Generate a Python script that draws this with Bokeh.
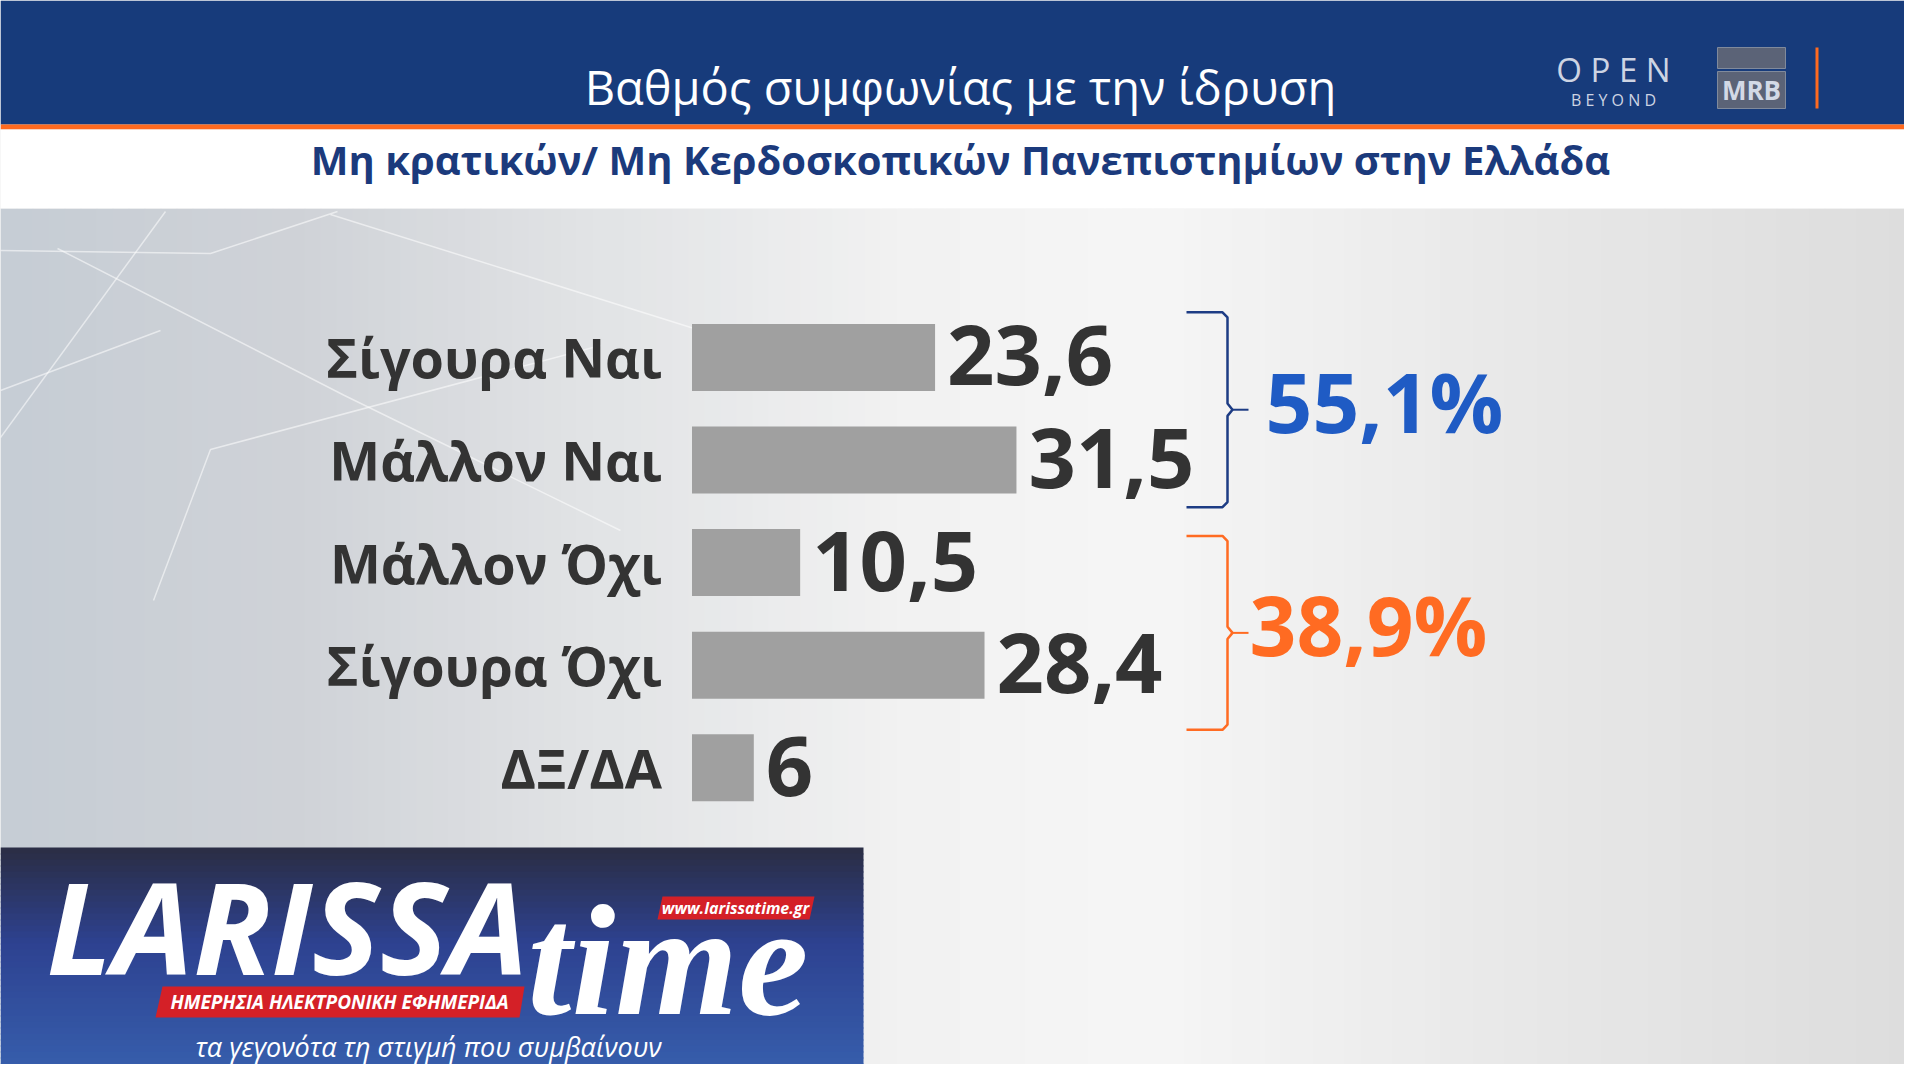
import numpy as np
from bokeh.plotting import figure
from bokeh.models import Range1d, ColumnDataSource
from bokeh.embed import file_html
from bokeh.resources import INLINE
from bokeh.core.properties import value

# ---------------- data ----------------
title_text = "Βαθμός συμφωνίας με την ίδρυση"
subtitle_text = "Μη κρατικών/ Μη Κερδοσκοπικών Πανεπιστημίων στην Ελλάδα"
categories = ["Σίγουρα Ναι", "Μάλλον Ναι", "Μάλλον Όχι", "Σίγουρα Όχι", "ΔΞ/ΔΑ"]
values = [23.6, 31.5, 10.5, 28.4, 6]
value_labels = ["23,6", "31,5", "10,5", "28,4", "6"]
group_members = [[0, 1], [2, 3]]
group_labels = ["55,1%", "38,9%"]
group_colors = ["#1d3c84", "#ff6b22"]
group_text_colors = ["#1f5bc4", "#ff6b22"]

# ---------------- layout (screen pixels) ----------------
W, H = 1904, 1064
BAR_X0 = 691.5       # screen x of value 0
PX_PER_UNIT = 10.3   # screen px per percentage point
ROW0 = 356.9         # screen y of first row centre
ROW_STEP = 102.6     # screen px between rows
# brace extents relative to the first/last row of each group (row units)
BRACE_TOP_PAD = [-0.44, -0.26]
BRACE_BOT_PAD = [0.46, 0.63]
BRACE_LABEL_DX = [17, 1]

FONT = value("Open Sans")

p = figure(width=W, height=H,
           x_range=Range1d(0, W), y_range=Range1d(H, 0),
           output_backend="svg", toolbar_location=None,
           x_axis_location=None, y_axis_location=None,
           min_border=0, outline_line_color=None,
           background_fill_color="#e9e9e9", border_fill_color="#e9e9e9")
p.grid.visible = False
p.title.visible = False

p.extra_x_ranges = {"val": Range1d((0 - BAR_X0) / PX_PER_UNIT,
                                   (W - BAR_X0) / PX_PER_UNIT)}
p.extra_y_ranges = {"cat": Range1d((H - ROW0) / ROW_STEP,
                                   (0 - ROW0) / ROW_STEP)}

# ---------------- background gradient ----------------
ax = [0, 300, 600, 900, 1150, 1500, 1920]
ac = [(198, 205, 213), (208, 211, 216), (226, 228, 230), (242, 242, 242),
      (246, 246, 246), (233, 233, 233), (221, 221, 221)]
xs = np.arange(0, 1920, 16)
cols = []
for x in xs:
    c = [int(np.interp(x + 8, ax, [a[i] for a in ac])) for i in range(3)]
    cols.append("#%02x%02x%02x" % tuple(c))
p.quad(left=xs, right=xs + 17, top=208, bottom=1080, fill_color=cols, line_color=None)

# faint decorative lines
deco = [
    ([0, 210, 337], [250, 253, 211]),
    ([57, 344, 620], [248, 395, 530]),
    ([165, 0], [211, 437]),
    ([153, 210, 600], [600, 449, 345]),
    ([0, 160], [390, 330]),
    ([330, 700], [214, 330]),
]
for dx, dy in deco:
    p.line(dx, dy, line_color="white", line_alpha=0.55, line_width=1.5)

# ---------------- header ----------------
p.quad(left=0, right=1920, top=0, bottom=124, fill_color="#173b7b", line_color=None)
p.quad(left=0, right=1920, top=124, bottom=129, fill_color="#ff6a1f", line_color=None)
p.quad(left=0, right=1920, top=129, bottom=208, fill_color="#ffffff", line_color=None)

p.text(x=[960], y=[86], text=[title_text], text_font=FONT, text_font_size="47px",
       text_color="white", text_align="center", text_baseline="middle")
p.text(x=[960], y=[159], text=[subtitle_text], text_font=FONT, text_font_size="40px",
       text_font_style="bold", text_color="#1b3a7c", text_align="center",
       text_baseline="middle")

# OPEN BEYOND logo
p.text(x=[1613], y=[69], text=["O P E N"], text_font=FONT, text_font_size="33px",
       text_color="#cdd4e3", text_align="center", text_baseline="middle")
p.text(x=[1613], y=[99], text=["B E Y O N D"], text_font=FONT, text_font_size="16px",
       text_color="#cdd4e3", text_align="center", text_baseline="middle")
# MRB logo
p.quad(left=[1717, 1717], right=[1785, 1785], top=[47, 71], bottom=[68, 108],
       fill_color="#5b6377", line_color="#808a9c", line_width=1)
p.text(x=[1751], y=[89], text=["MRB"], text_font=FONT, text_font_size="26px",
       text_font_style="bold", text_color="#d3d9e6", text_align="center",
       text_baseline="middle")
p.quad(left=1815, right=1818, top=47, bottom=108, fill_color="#ff6a1f", line_color=None)

# ---------------- bars ----------------
src = ColumnDataSource(dict(
    pos=list(range(len(categories))),
    cat=categories,
    val=values,
    lab=value_labels,
))
p.hbar(y="pos", left=0, right="val", height=0.653, source=src,
       fill_color="#a0a0a0", line_color=None,
       x_range_name="val", y_range_name="cat")
p.text(x=0, y="pos", text="cat", source=src, x_offset=-30, y_offset=0,
       text_font=FONT, text_font_size="54px", text_font_style="bold",
       text_color="#333333", text_align="right", text_baseline="middle",
       x_range_name="val", y_range_name="cat")
p.text(x="val", y="pos", text="lab", source=src, x_offset=12, y_offset=-2,
       text_font=FONT, text_font_size="83px", text_font_style="bold",
       text_color="#333333", text_align="left", text_baseline="middle",
       x_range_name="val", y_range_name="cat")

# ---------------- braces ----------------
XL, XV, XT = 1186, 1227, 1248
for k, (members, lab, col, tcol) in enumerate(zip(group_members, group_labels,
                                                   group_colors, group_text_colors)):
    yt = min(members) + BRACE_TOP_PAD[k]
    yb = max(members) + BRACE_BOT_PAD[k]
    ym = (yt + yb) / 2
    bx = [XL, XV - 5, XV, XV, XV + 5, XV, XV, XV - 5, XL]
    by = [yt, yt, yt + 0.05, ym - 0.06, ym, ym + 0.06, yb - 0.05, yb, yb]
    p.line(bx, by, line_color=col, line_width=2.5, y_range_name="cat")
    p.line([XV + 5, XT], [ym, ym], line_color=col, line_width=2, y_range_name="cat")
    p.text(x=[XT + BRACE_LABEL_DX[k]], y=[ym], text=[lab], y_offset=-9,
           text_font=FONT, text_font_size="82px", text_font_style="bold",
           text_color=tcol, text_align="left", text_baseline="middle",
           y_range_name="cat")

# ---------------- LARISSA time logo ----------------
top_c = np.array([43, 46, 70])
mid_c = np.array([46, 66, 145])
bot_c = np.array([56, 98, 176])
ys = np.arange(847, 1080, 6)
lcols = []
for y in ys:
    t = (y - 847) / (1080 - 847)
    if t < 0.4:
        c = top_c + (mid_c - top_c) * (t / 0.4)
    else:
        c = mid_c + (bot_c - mid_c) * ((t - 0.4) / 0.6)
    lcols.append("#%02x%02x%02x" % tuple(int(v) for v in c))
p.quad(left=0, right=863, top=ys, bottom=ys + 7, fill_color=lcols, line_color=None)

p.text(x=[46], y=[925], text=["LARISSA"], text_font=FONT, text_font_size="128px",
       text_font_style="bold italic", text_color="white", text_align="left",
       text_baseline="middle")
p.text(x=[527], y=[960], text=["time"], text_font=value("Liberation Serif"),
       text_font_size="158px", text_font_style="bold italic", text_color="white",
       text_align="left", text_baseline="middle")
p.patch([162, 524, 519, 155], [986, 986, 1017, 1017], fill_color="#d42027", line_color=None)
p.text(x=[339], y=[1001], text=["ΗΜΕΡΗΣΙΑ ΗΛΕΚΤΡΟΝΙΚΗ ΕΦΗΜΕΡΙΔΑ"], text_font=FONT,
       text_font_size="19px", text_font_style="bold italic", text_color="white",
       text_align="center", text_baseline="middle")
p.patch([662, 814, 809, 657], [896, 896, 919, 919], fill_color="#d42027", line_color=None)
p.text(x=[735], y=[907], text=["www.larissatime.gr"], text_font=FONT,
       text_font_size="16px", text_font_style="bold italic", text_color="white",
       text_align="center", text_baseline="middle")
p.text(x=[428], y=[1046], text=["τα γεγονότα τη στιγμή που συμβαίνουν"], text_font=FONT,
       text_font_size="27px", text_font_style="italic", text_color="white",
       text_align="center", text_baseline="middle")

open("out.html", "w").write(file_html(p, INLINE))
